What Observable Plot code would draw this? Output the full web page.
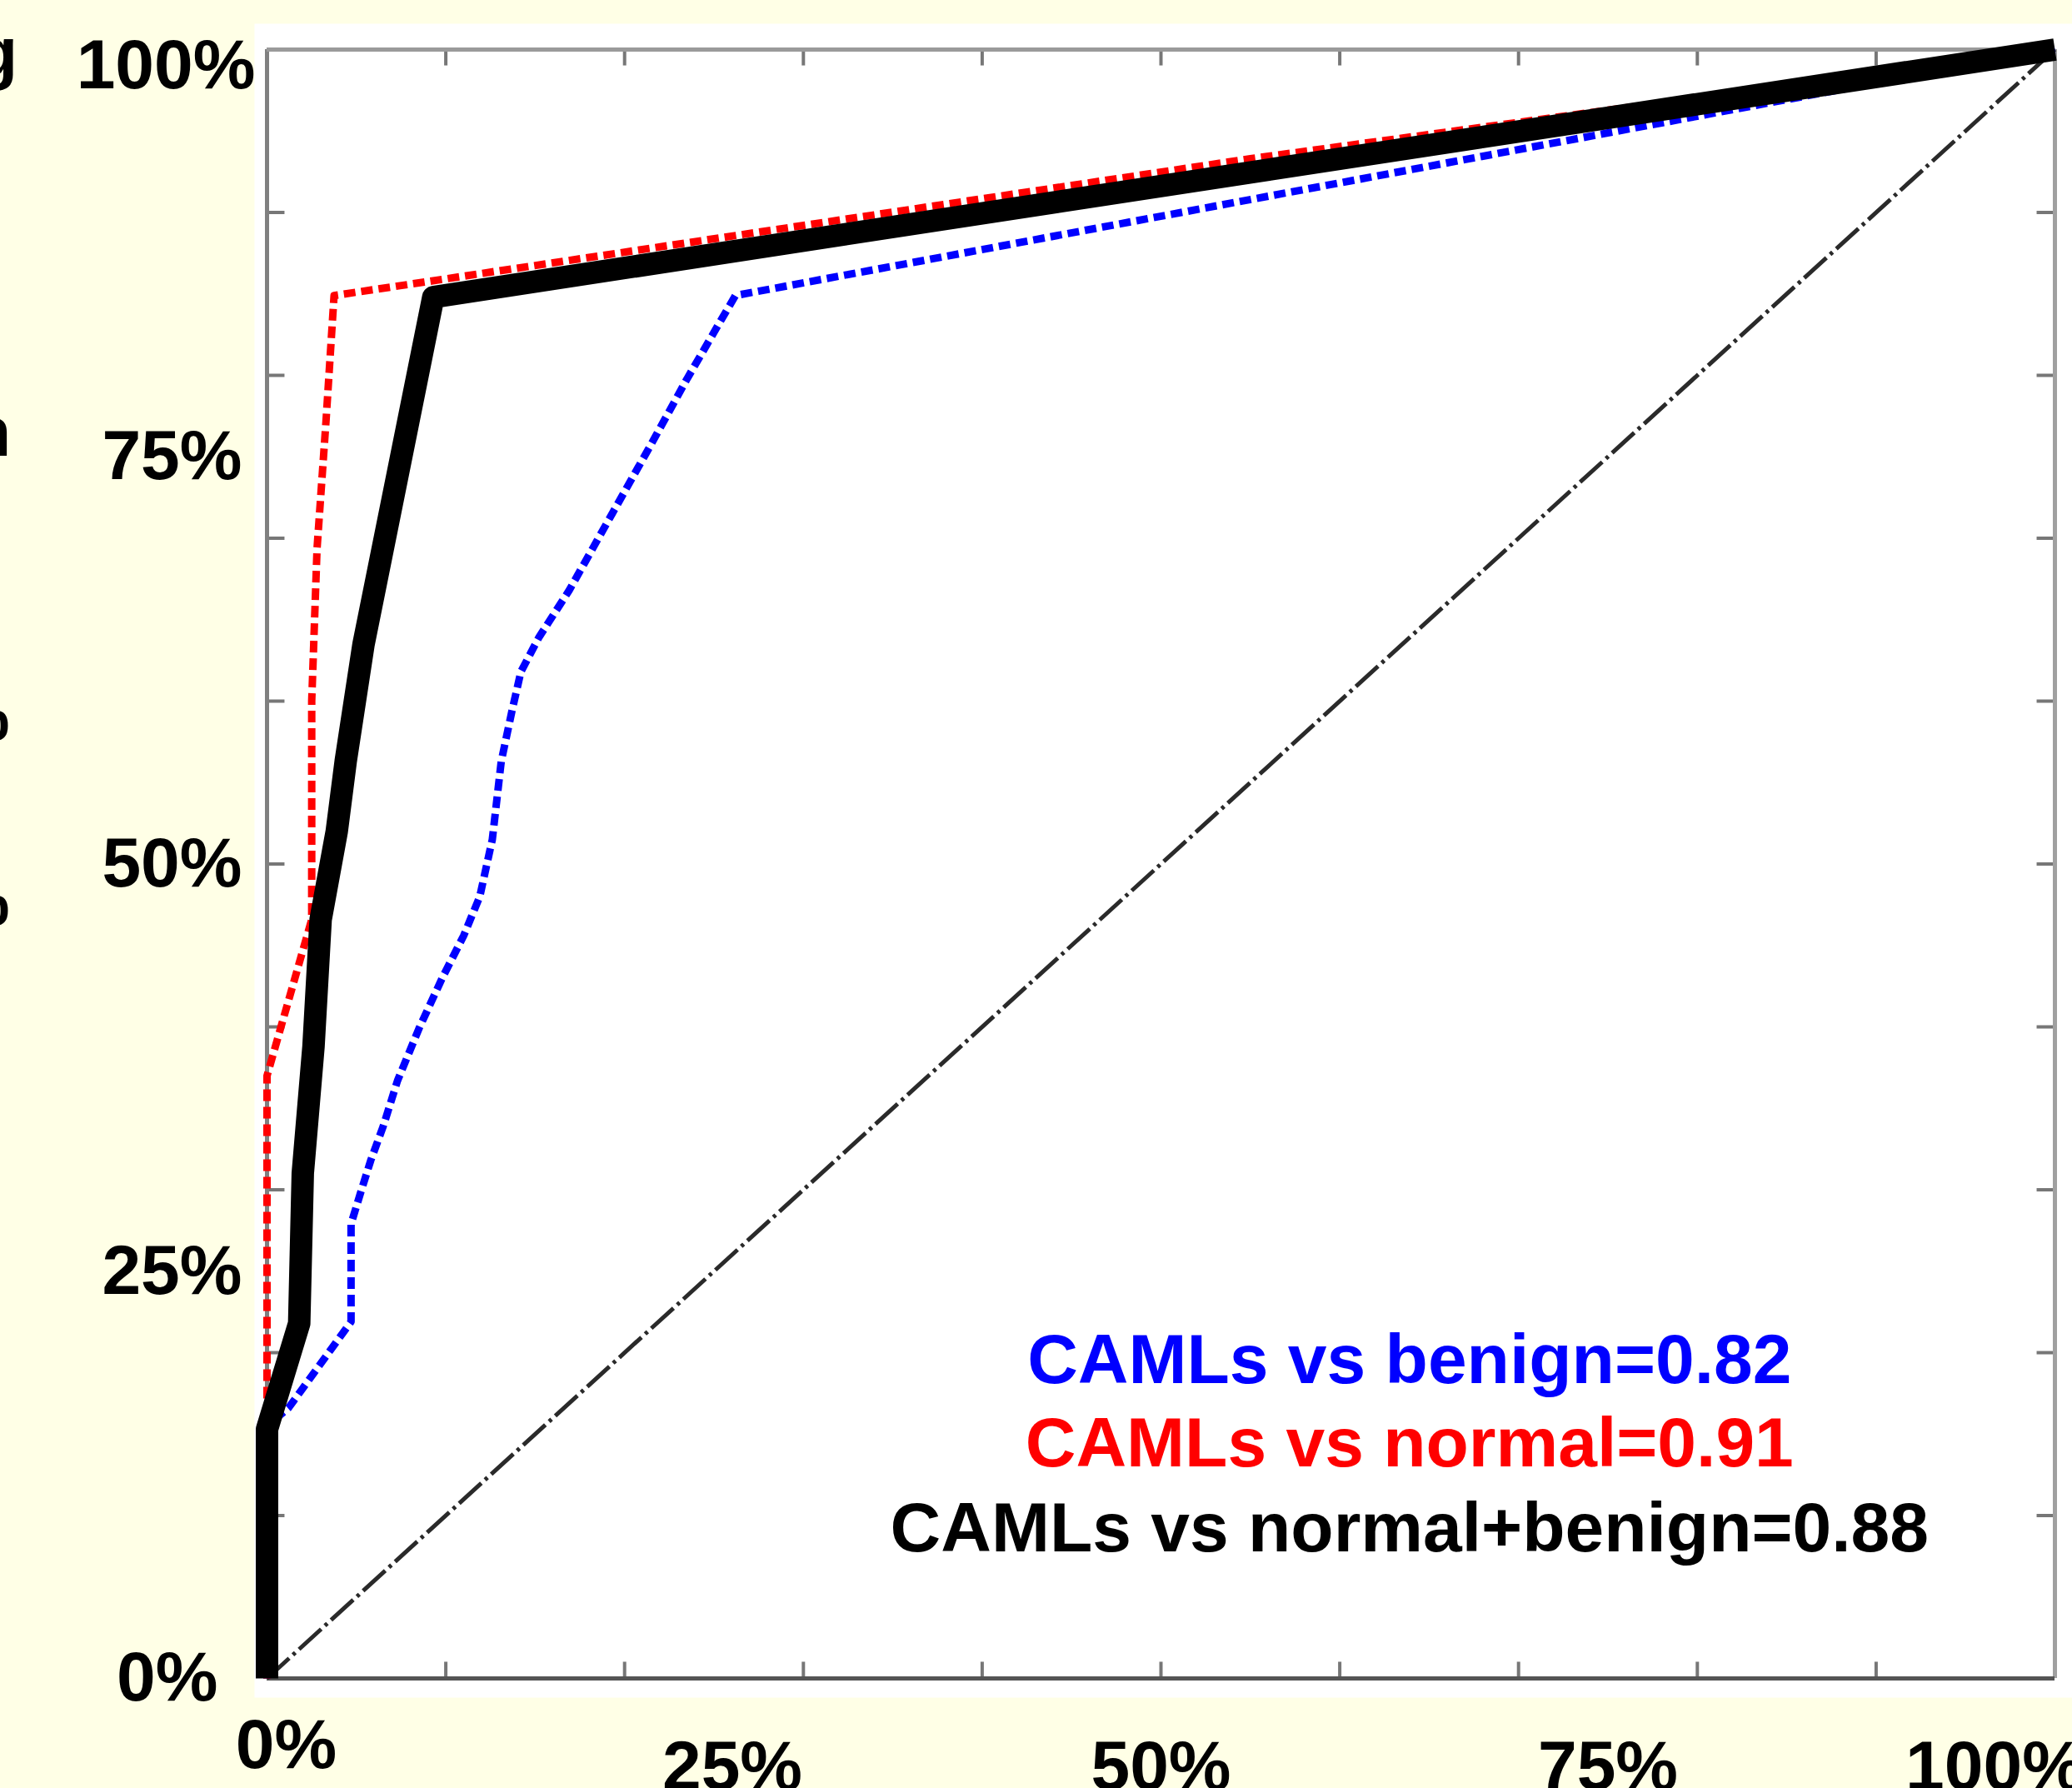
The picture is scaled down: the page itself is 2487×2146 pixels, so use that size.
<!DOCTYPE html>
<html>
<head>
<meta charset="utf-8">
<script src="https://cdn.jsdelivr.net/npm/d3@7"></script>
<script src="https://cdn.jsdelivr.net/npm/@observablehq/plot@0.6"></script>
<style>
html, body { margin: 0; padding: 0; background: #FFFFE6; overflow: hidden; }
#wrap { position: relative; width: 2487px; height: 2146px; }
#wrap svg { position: absolute; left: 0; top: 0; }
.frag { position: absolute; font: bold 84px "Liberation Sans", Arial, sans-serif; line-height: 1; color: #000; white-space: nowrap; }
</style>
</head>
<body>
<div id="wrap"></div>
<script>
// ROC curves (false positive rate %, true positive rate %)
const fprBenign = [0, 0, 1.2, 4.7, 4.7, 5.2, 5.8, 6.5, 7.3, 8.5, 9.8, 11.0, 11.9, 12.6, 13.1, 13.7, 14.2, 15.2, 16.9, 19.3, 21.4, 23.5, 25.4, 26.2, 100];
const tprBenign = [0, 15.5, 16.6, 21.9, 27.9, 29.7, 31.8, 33.9, 36.7, 39.9, 43.0, 45.6, 48.0, 51.5, 56.3, 59.4, 61.8, 63.9, 66.8, 71.5, 75.6, 79.8, 83.4, 84.9, 100];

const fprNormal = [0, 0, 2.5, 2.5, 2.8, 3.3, 3.75, 55, 100];
const tprNormal = [0, 37, 46.6, 60, 69.4, 77.2, 84.9, 93.3, 100];

const fprCombined = [0, 0, 1.8, 2.0, 2.6, 3.0, 3.9, 4.4, 5.4, 9.3, 100];
const tprCombined = [0, 15.3, 21.8, 31, 38.8, 46.6, 52, 56.3, 63.5, 84.8, 100];

const chanceX = [0, 100];
const chanceY = [0, 100];

const gridTicks = [0, 10, 20, 30, 40, 50, 60, 70, 80, 90, 100];
const labelTicks = [0, 25, 50, 75, 100];

const seriesNames = ["CAMLs vs benign", "CAMLs vs normal", "CAMLs vs normal+benign"];
const aucValues = [0.82, 0.91, 0.88];
const seriesColors = ["#0000FF", "#FF0000", "#000000"];

const pts = (xs, ys) => xs.map((x, i) => ({x, y: ys[i]}));
const pct = d => `${d}%`;
const FONT = '"Liberation Sans", Arial, sans-serif';

const tickStyle = {stroke: "#777", strokeWidth: 4};
const labelStyle = {fontSize: 84, fontWeight: "bold", fill: "black", text: pct};

const plot = Plot.plot({
  width: 2487,
  height: 2146,
  marginLeft: 320,
  marginRight: 21,
  marginTop: 59,
  marginBottom: 132,
  x: {domain: [0, 100], axis: null},
  y: {domain: [0, 100], axis: null},
  style: {background: "transparent", fontFamily: FONT, color: "black", overflow: "visible"},
  marks: [
    // white panel
    Plot.frame({fill: "white", stroke: null, insetLeft: -15, insetTop: -31, insetRight: -21, insetBottom: -23}),
    // ticks (inward, every 10%)
    Plot.ruleX(gridTicks, {x: d => d, y1: 100, y2: 99, ...tickStyle}),
    Plot.ruleX(gridTicks, {x: d => d, y1: 0, y2: 1, ...tickStyle}),
    Plot.ruleY(gridTicks, {y: d => d, x1: 0, x2: 1, ...tickStyle}),
    Plot.ruleY(gridTicks, {y: d => d, x1: 100, x2: 99, ...tickStyle}),
    // box
    Plot.ruleX([0], {stroke: "#808080", strokeWidth: 5}),
    Plot.ruleX([100], {stroke: "#a0a0a0", strokeWidth: 5}),
    Plot.ruleY([100], {stroke: "#9a9a9a", strokeWidth: 5}),
    Plot.ruleY([0], {stroke: "#555555", strokeWidth: 5}),
    // chance diagonal
    Plot.line(pts(chanceX, chanceY), {x: "x", y: "y", stroke: "#2a2a2a", strokeWidth: 5, strokeDasharray: "36 6 4 6", strokeLinecap: "butt"}),
    // ROC curves
    Plot.line(pts(fprBenign, tprBenign), {x: "x", y: "y", stroke: seriesColors[0], strokeWidth: 9, strokeDasharray: "14 7", strokeLinecap: "butt"}),
    Plot.line(pts(fprNormal, tprNormal), {x: "x", y: "y", stroke: seriesColors[1], strokeWidth: 9, strokeDasharray: "14 7", strokeLinecap: "butt"}),
    Plot.line(pts(fprCombined, tprCombined), {x: "x", y: "y", stroke: seriesColors[2], strokeWidth: 27, strokeLinecap: "butt", strokeLinejoin: "round"}),
    // x tick labels
    Plot.text([labelTicks[0]], {x: d => d, frameAnchor: "bottom", lineAnchor: "top", dy: 48, dx: 23, ...labelStyle}),
    Plot.text([labelTicks[1]], {x: d => d, frameAnchor: "bottom", lineAnchor: "top", dy: 74, dx: 22, ...labelStyle}),
    Plot.text([labelTicks[2], labelTicks[3]], {x: d => d, frameAnchor: "bottom", lineAnchor: "top", dy: 74, ...labelStyle}),
    Plot.text([labelTicks[4]], {x: d => d, frameAnchor: "bottom", lineAnchor: "top", dy: 74, dx: -72, ...labelStyle}),
    // y tick labels
    Plot.text([labelTicks[0]], {y: d => d, frameAnchor: "left", textAnchor: "end", lineAnchor: "middle", dx: -59, ...labelStyle}),
    Plot.text([labelTicks[1], labelTicks[2], labelTicks[3]], {y: d => d, frameAnchor: "left", textAnchor: "end", lineAnchor: "middle", dx: -30, ...labelStyle}),
    Plot.text([labelTicks[4]], {y: d => d, frameAnchor: "left", textAnchor: "end", lineAnchor: "middle", dx: -14, dy: 20, ...labelStyle}),
    // AUC legend
    Plot.text([0], {x: 63.9, y: 19.5, text: () => `${seriesNames[0]}=${aucValues[0]}`, fill: seriesColors[0], fontSize: 84, fontWeight: "bold", lineAnchor: "middle"}),
    Plot.text([0], {x: 63.9, y: 14.4, text: () => `${seriesNames[1]}=${aucValues[1]}`, fill: seriesColors[1], fontSize: 84, fontWeight: "bold", lineAnchor: "middle"}),
    Plot.text([0], {x: 63.9, y: 9.2, text: () => `${seriesNames[2]}=${aucValues[2]}`, fill: seriesColors[2], fontSize: 84, fontWeight: "bold", lineAnchor: "middle"})
  ]
});

const wrap = document.getElementById("wrap");
wrap.appendChild(plot);

// cropped remnants of text at the left edge of the image
const frags = [["g", -30, 21], ["n", -38, 476], ["%", -63, 817], ["%", -63, 1039]];
for (const [t, l, tp] of frags) {
  const s = document.createElement("span");
  s.className = "frag";
  s.textContent = t;
  s.style.left = l + "px";
  s.style.top = tp + "px";
  wrap.appendChild(s);
}
</script>
</body>
</html>
